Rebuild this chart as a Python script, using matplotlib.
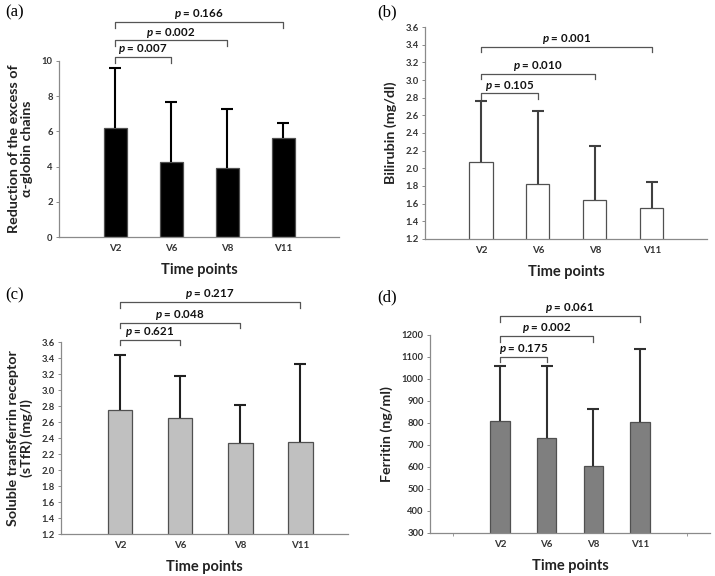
import numpy as np
import matplotlib
matplotlib.use('Agg')
import matplotlib.pyplot as plt
from matplotlib.ticker import FormatStrFormatter, FixedLocator

plt.rcParams['font.family'] = ['Lato', 'DejaVu Sans']
plt.rcParams['mathtext.fontset'] = 'custom'
plt.rcParams['mathtext.bfit'] = 'Lato:italic:bold'

time_points = ['V2', 'V6', 'V8', 'V11']

# (a) alpha-globin chains
alpha_mean = [6.2, 4.27, 3.9, 5.6]
alpha_upper = [9.62, 7.68, 7.25, 6.5]
alpha_p = ['0.007', '0.002', '0.166']

# (b) bilirubin
bili_mean = [2.07, 1.82, 1.645, 1.555]
bili_upper = [2.76, 2.65, 2.255, 1.845]
bili_p = ['0.105', '0.010', '0.001']

# (c) soluble transferrin receptor
stfr_mean = [2.745, 2.65, 2.34, 2.35]
stfr_upper = [3.435, 3.18, 2.81, 3.325]
stfr_p = ['0.621', '0.048', '0.217']

# (d) ferritin
ferr_mean = [808, 732, 604, 804]
ferr_upper = [1059, 1061, 864, 1134]
ferr_p = ['0.175', '0.002', '0.061']

fig = plt.figure(figsize=(7.15, 5.76), dpi=100)

panels = [
    dict(tag='(a)', rect=[0.0825, 0.5885, 0.392, 0.3056], mean=alpha_mean, upper=alpha_upper,
         p=alpha_p, color='black', ecolor='black', ylim=(0, 10), yticks=np.arange(0, 11, 2),
         fmt='%d', xlim=(-1.0, 4.0), levels=[10.23, 11.17, 12.2], tip=0.33,
         ylabel='Reduction of the excess of\nα-globin chains', tagpos=(0.007, 0.978)),
    dict(tag='(b)', rect=[0.5944, 0.5851, 0.3944, 0.368], mean=bili_mean, upper=bili_upper,
         p=bili_p, color='white', ecolor='#404040', ylim=(1.2, 3.6),
         yticks=np.arange(1.2, 3.61, 0.2), fmt='%.1f', xlim=(-0.98, 3.97),
         levels=[2.848, 3.07, 3.375], tip=0.06, ylabel='Bilirubin (mg/dl)',
         tagpos=(0.528, 0.978)),
    dict(tag='(c)', rect=[0.0853, 0.0729, 0.402, 0.3333], mean=stfr_mean, upper=stfr_upper,
         p=stfr_p, color='#c0c0c0', ecolor='#202020', ylim=(1.2, 3.6),
         yticks=np.arange(1.2, 3.61, 0.2), fmt='%.1f', xlim=(-0.98, 3.8),
         levels=[3.63, 3.84, 4.1], tip=0.07,
         ylabel='Soluble transferrin receptor\n(sTfR) (mg/l)', tagpos=(0.007, 0.488)),
    dict(tag='(d)', rect=[0.6014, 0.0747, 0.3916, 0.3438], mean=ferr_mean, upper=ferr_upper,
         p=ferr_p, color='#7f7f7f', ecolor='#303030', ylim=(300, 1200),
         yticks=np.arange(300, 1201, 100), fmt='%d', xlim=(-1.5, 4.5),
         levels=[1102, 1195, 1286], tip=26, ylabel='Ferritin (ng/ml)',
         tagpos=(0.528, 0.483)),
]

x = np.arange(len(time_points))
spine_col = '#8a8a8a'

for pn in panels:
    ax = fig.add_axes(pn['rect'])
    mean = np.array(pn['mean'], dtype=float)
    upper = np.array(pn['upper'], dtype=float)
    ax.bar(x, mean, width=0.41, color=pn['color'], edgecolor='#505050', linewidth=0.9,
           zorder=2)
    # upper-only error bars with a cap on top
    ax.vlines(x, mean, upper, color=pn['ecolor'], lw=1.5, zorder=3)
    ax.plot(x, upper, ls='none', marker='_', ms=9, mew=1.5, color=pn['ecolor'], zorder=3)
    ax.set_ylim(*pn['ylim'])
    ax.set_xlim(*pn['xlim'])
    ax.set_yticks(pn['yticks'])
    ax.yaxis.set_major_formatter(FormatStrFormatter(pn['fmt']))
    ax.set_xticks(x)
    ax.set_xticklabels(time_points)
    for s in ['top', 'right']:
        ax.spines[s].set_visible(False)
    for s in ['left', 'bottom']:
        ax.spines[s].set_color(spine_col)
        ax.spines[s].set_linewidth(0.9)
    ax.tick_params(axis='y', length=2.5, width=0.7, color=spine_col, labelsize=6.8,
                   labelcolor='#333333', pad=2)
    ax.tick_params(axis='x', length=0, labelsize=7, labelcolor='#333333', pad=5)
    for lab in ax.get_xticklabels() + ax.get_yticklabels():
        lab.set_fontweight('bold')
    if pn['tag'] == '(d)':
        ax.xaxis.set_minor_locator(FixedLocator([-1, 4]))
        ax.tick_params(axis='x', which='minor', length=2, color=spine_col)
    ax.set_xlabel('Time points', fontsize=10.5, fontweight='bold', color='#222222', labelpad=7)
    ax.set_ylabel(pn['ylabel'], fontsize=10.3, fontweight='bold', color='#222222',
                  labelpad=6, linespacing=1.15)

    # significance brackets from V2 to the later time points
    for j, (pval, lev) in enumerate(zip(pn['p'], pn['levels'])):
        x0, x1 = x[0], x[j + 1]
        ax.plot([x0, x0, x1, x1], [lev - pn['tip'], lev, lev, lev - pn['tip']],
                color='#555555', lw=0.9, clip_on=False, zorder=3)
        ax.text((x0 + x1) / 2, lev + pn['tip'] * 0.15, r'$\mathbfit{p}$ = ' + pval,
                ha='center', va='bottom', fontsize=8.3, fontweight='bold', color='#111111',
                clip_on=False)

    fig.text(pn['tagpos'][0], pn['tagpos'][1], pn['tag'], family='Liberation Serif',
             fontsize=12, va='center', ha='left')

fig.savefig('out.png', dpi=100)
